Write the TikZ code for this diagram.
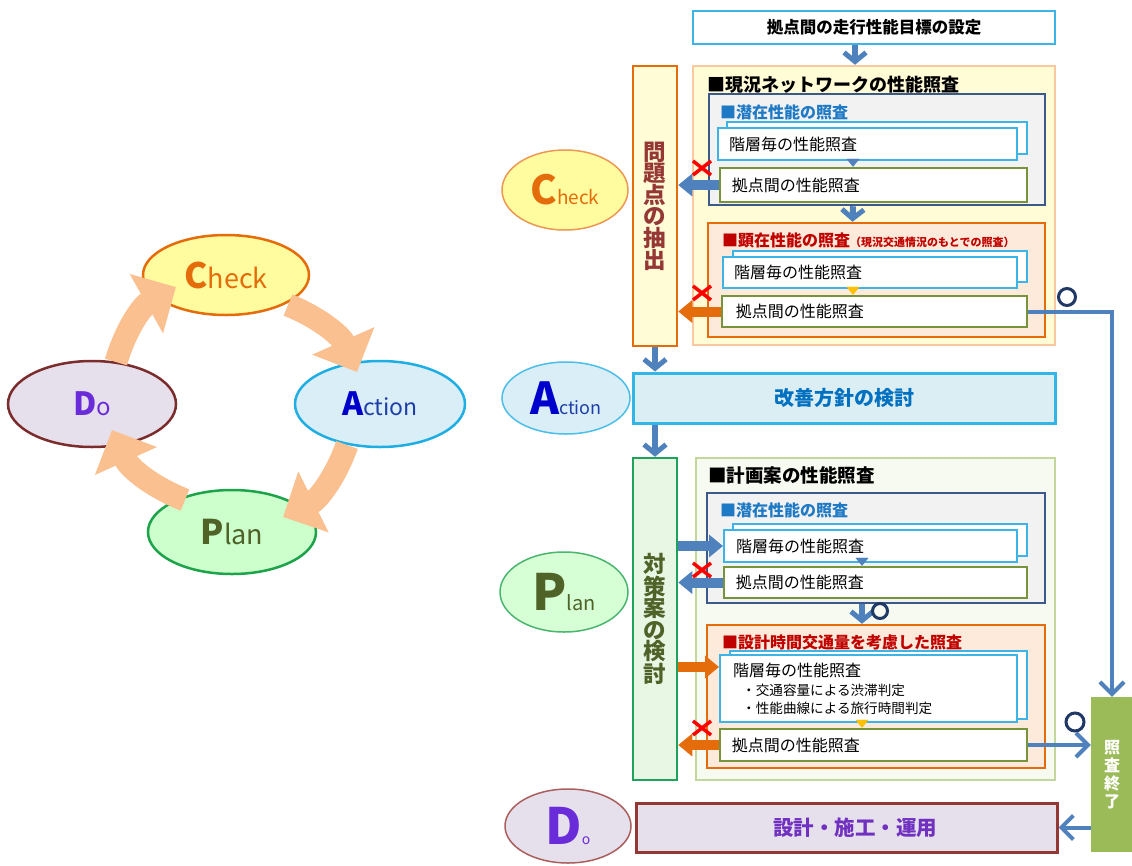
\documentclass[tikz,border=0pt]{standalone}
\usepackage{fontspec}
\setmainfont{Noto Sans CJK JP}
\usetikzlibrary{arrows.meta,shapes.geometric,calc}
\newcommand\fs[2]{\fontsize{#1}{#2}\selectfont}
\definecolor{blu}{HTML}{4F81BD}
\definecolor{cyanb}{HTML}{3CB4E5}
\definecolor{olv}{HTML}{77933C}
\definecolor{navyb}{HTML}{3B5A8A}
\definecolor{ttlblue}{HTML}{1F7AC6}
\definecolor{orng}{HTML}{E46C0A}
\definecolor{peachf}{HTML}{FDEADA}
\definecolor{yelf}{HTML}{FFFCD6}
\definecolor{big1b}{HTML}{F9C8A0}
\definecolor{redt}{HTML}{C00000}
\definecolor{big2f}{HTML}{F6FAF0}
\definecolor{big2b}{HTML}{C4D79B}
\definecolor{taif}{HTML}{E8F6E4}
\definecolor{taib}{HTML}{1FA35C}
\definecolor{oltext}{HTML}{4F6228}
\definecolor{kaif}{HTML}{DBEEF4}
\definecolor{kaib}{HTML}{31B6E7}
\definecolor{kait}{HTML}{0070C0}
\definecolor{shouf}{HTML}{9BBB59}
\definecolor{sekf}{HTML}{E6E0EC}
\definecolor{sekb}{HTML}{953735}
\definecolor{sekt}{HTML}{7030C0}
\definecolor{cycc}{HTML}{FAC090}
\definecolor{grayf}{HTML}{F2F2F2}
\definecolor{navyc}{HTML}{1F3864}
\definecolor{chkf}{HTML}{FFFCA0}
\definecolor{actf}{HTML}{DAEEF7}
\definecolor{actb}{HTML}{1EAEE3}
\definecolor{dob}{HTML}{7B2C2C}
\definecolor{plnf}{HTML}{CCFFCC}
\definecolor{plnb}{HTML}{1DA34A}
\definecolor{abl}{HTML}{0000CC}
\definecolor{ctn}{HTML}{1F3FA8}
\definecolor{dop}{HTML}{6A2BD9}
\definecolor{yeltri}{HTML}{FFC000}
\begin{document}
\begin{tikzpicture}[x=1pt,y=-1pt,
  ell/.style={ellipse,inner sep=0pt,line width=2.5pt},
  rell/.style={ellipse,inner sep=0pt,line width=1.5pt},
  rbox/.style={rectangle,inner sep=0pt,line width=2.5pt},
  ttl/.style={anchor=west,inner sep=0pt,font=\bfseries\fs{18}{20}},
  stl/.style={anchor=west,inner sep=0pt,font=\bfseries\fs{16}{18}},
  lbl/.style={anchor=west,inner sep=0pt,font=\fs{16}{18}},
  vtxt/.style={align=center},
  cyc/.style={draw=cycc,line width=23pt,-{Triangle[length=34pt,width=66pt]}},
  thk/.style={line width=10pt,-{Triangle[length=14pt,width=22pt]}},
  dwn/.style={draw=blu,line width=6pt,-{Straight Barb[length=9pt,width=22pt,line width=5pt]}},
  lng/.style={draw=blu,line width=4pt,-{Straight Barb[length=12pt,width=24pt]}},
  tri/.style={line width=0.1pt,-{Triangle[length=8pt,width=13pt]}},
  ring/.style={circle,draw=navyc,line width=3pt,minimum size=17pt,inner sep=0pt},
  redx/.pic={\draw[red,line width=3.5pt] (-9,-7)--(9,7) (-9,7)--(9,-7);}
]
\fill[white] (0,0) rectangle (1132,865);
\useasboundingbox (0,0) rectangle (1132,865);

% ---------- left PDCA cycle ----------
\node[ell,fill=chkf,draw=orng,minimum width=166pt,minimum height=80pt] (lcheck) at (226,275)
  {\textcolor{orng}{\bfseries\fs{35}{35}C\mdseries\fs{27}{27}heck}};
\node[ell,fill=actf,draw=actb,minimum width=170pt,minimum height=86pt] (laction) at (380,404)
  {\textcolor{abl}{\bfseries\fs{32}{32}A}\textcolor{ctn}{\fs{23}{23}ction}};
\node[ell,fill=sekf,draw=dob,minimum width=168pt,minimum height=86pt] (ldo) at (92,404)
  {\textcolor{dop}{\bfseries\fs{32}{32}D\mdseries\fs{24}{24}o}};
\node[ell,fill=plnf,draw=plnb,minimum width=168pt,minimum height=84pt] (lplan) at (232,532)
  {\textcolor{oltext}{\bfseries\fs{34}{34}P\mdseries\fs{27}{27}lan}};

\draw[cyc] ($(ldo)+(24,-42)$) to[bend left=22] ($(lcheck)+(-50,12)$);
\draw[cyc] ($(lcheck)+(62,30)$) to[bend left=22] ($(laction)+(-23,-32)$);
\draw[cyc] ($(laction)+(-33,41)$) to[bend left=22] ($(lplan)+(51,-15)$);
\draw[cyc] ($(lplan)+(-47,-32)$) to[bend left=22] ($(ldo)+(20,26)$);

% ---------- right flow ----------
\node[rbox,draw=cyanb,fill=white,line width=2pt,minimum width=362pt,minimum height=33pt,
  font=\bfseries\fs{16.5}{20}] (top) at (874,27.5) {拠点間の走行性能目標の設定};

% current network block
\node[rbox,draw=big1b,fill=yelf,minimum width=362pt,minimum height=279pt] (big1) at (874,205.5) {};
\node[ttl] (t1) at (707,85) {■現況ネットワークの性能照査};
\node[rbox,draw=navyb,fill=grayf,minimum width=336pt,minimum height=111pt] (pot1) at (877,149.5) {};
\node[stl,text=ttlblue] (t2) at (720,112) {■潜在性能の照査};
\node[rbox,draw=cyanb,fill=white,line width=2pt,minimum width=300pt,minimum height=32pt] (lay1b) at (877,138) {};
\node[rbox,draw=cyanb,fill=white,line width=2pt,minimum width=299pt,minimum height=32pt] (lay1) at (867.5,144) {};
\node[lbl] at ([xshift=12pt]lay1.west) {階層毎の性能照査};
\node[rbox,draw=olv,fill=white,minimum width=307pt,minimum height=34pt] (pt1) at (873.5,185) {};
\node[lbl] at ([xshift=13pt]pt1.west) {拠点間の性能照査};

\node[rbox,draw=orng,fill=peachf,minimum width=337pt,minimum height=114pt] (act1) at (876.5,280) {};
\node[stl,text=redt] (t3) at (722,240) {■顕在性能の照査{\fs{11}{13}（現況交通情況のもとでの照査）}};
\node[rbox,draw=cyanb,fill=white,line width=2pt,minimum width=294pt,minimum height=31pt] (lay2b) at (880,266.5) {};
\node[rbox,draw=cyanb,fill=white,line width=2pt,minimum width=294pt,minimum height=31pt] (lay2) at (870,272.5) {};
\node[lbl] at ([xshift=12pt]lay2.west) {階層毎の性能照査};
\node[rbox,draw=olv,fill=white,minimum width=305pt,minimum height=31pt] (pt2) at (874.5,311.5) {};
\node[lbl] at ([xshift=15pt]pt2.west) {拠点間の性能照査};

\node[rbox,draw=orng,fill=yelf,minimum width=44pt,minimum height=280pt,vtxt,
  font=\bfseries\fs{22.5}{21.6},text=sekb] (mondai) at (655,206) {問\\題\\点\\の\\抽\\出};

\node[rell,fill=chkf,draw=orng!70,minimum width=126pt,minimum height=80pt] (rcheck) at (565,190)
  {\textcolor{orng}{\bfseries\fs{40}{40}C\mdseries\fs{19}{19}heck}};

% improvement policy
\node[rbox,draw=kaib,fill=kaif,line width=3pt,minimum width=422pt,minimum height=50pt,
  font=\bfseries\fs{20}{22},text=kait] (kaizen) at (844,398) {改善方針の検討};
\node[rell,fill=actf,draw=actb!80,minimum width=128pt,minimum height=72pt] (raction) at (566,398)
  {\textcolor{abl}{\bfseries\fs{44}{44}A}\textcolor{ctn}{\fs{18}{18}ction}};

% plan block
\node[rbox,draw=big2b,fill=big2f,minimum width=359pt,minimum height=322pt] (big2) at (875.5,619) {};
\node[ttl,font=\bfseries\fs{18.5}{20}] (t4) at (708,475) {■計画案の性能照査};
\node[rbox,draw=navyb,fill=grayf,minimum width=338pt,minimum height=110pt] (pot2) at (876,548) {};
\node[stl,text=ttlblue] (t5) at (720,510) {■潜在性能の照査};
\node[rbox,draw=cyanb,fill=white,line width=2pt,minimum width=294pt,minimum height=32pt] (lay3b) at (880,540) {};
\node[rbox,draw=cyanb,fill=white,line width=2pt,minimum width=293pt,minimum height=32pt] (lay3) at (870.5,546) {};
\node[lbl] at ([xshift=13pt]lay3.west) {階層毎の性能照査};
\node[rbox,draw=olv,fill=white,minimum width=303pt,minimum height=31pt] (pt3) at (875.5,582.5) {};
\node[lbl] at ([xshift=13pt]pt3.west) {拠点間の性能照査};

\node[rbox,draw=orng,fill=peachf,minimum width=338pt,minimum height=143pt] (des) at (876,696.5) {};
\node[stl,text=redt] (t6) at (722,642) {■設計時間交通量を考慮した照査};
\node[rbox,draw=cyanb,fill=white,line width=2pt,minimum width=297pt,minimum height=68pt] (lay4b) at (878.5,685) {};
\node[rbox,draw=cyanb,fill=white,line width=2pt,minimum width=297pt,minimum height=67pt] (lay4) at (868.5,688.5) {};
\node[lbl] (l4a) at (733,670) {階層毎の性能照査};
\node[lbl,font=\fs{13.6}{15}] (l4b) at (742,690) {・交通容量による渋滞判定};
\node[lbl,font=\fs{13.6}{15}] (l4c) at (742,708) {・性能曲線による旅行時間判定};
\node[rbox,draw=olv,fill=white,minimum width=307pt,minimum height=32pt] (pt4) at (873.5,745) {};
\node[lbl] at ([xshift=13pt]pt4.west) {拠点間の性能照査};

\node[rbox,draw=taib,fill=taif,minimum width=44pt,minimum height=322pt,vtxt,
  font=\bfseries\fs{22.5}{21.4},text=oltext] (taisaku) at (655,619) {対\\策\\案\\の\\検\\討};
\node[rell,fill=plnf!80!white,draw=plnb!80,minimum width=128pt,minimum height=80pt] (rplan) at (564,592)
  {\textcolor{oltext}{\bfseries\fs{50}{50}P\mdseries\fs{20}{20}lan}};

% end of check, design
\node[rectangle,inner sep=0pt,fill=shouf,minimum width=42pt,minimum height=155pt,vtxt,
  font=\bfseries\fs{16}{17.8},text=white] (shouka) at (1112,774.5) {照\\査\\終\\了};
\node[rbox,draw=sekb,fill=sekf,line width=3pt,minimum width=421pt,minimum height=49pt] (sekkei) at (846.5,827.5) {};
\node[inner sep=0pt,font=\bfseries\fs{20.5}{22},text=sekt] (sekt) at (855,827.5) {設計・施工・運用};
\node[rell,fill=sekf,draw=sekb!80,minimum width=126pt,minimum height=74pt] (rdo) at (568,826)
  {\textcolor{dop}{\bfseries\fs{50}{50}D\mdseries\fs{14}{14}o}};

% ---------- connectors ----------
\draw[dwn] ([xshift=-19pt]top.south) -- ([xshift=-19pt]big1.north);
\draw[dwn] ([xshift=-24pt]pot1.south) -- ([xshift=-24pt]act1.north);
\draw[tri,draw=blu,fill=blu] ([xshift=-14.5pt]lay1.south) -- ([xshift=-14.5pt]lay1.south |- pt1.north);
\draw[tri,draw=yeltri,fill=yeltri] ([xshift=-17pt]lay2.south) -- ([xshift=-17pt]lay2.south |- pt2.north);
\draw[thk,draw=blu] (pt1.west) -- (mondai.east |- pt1.west);
\draw[thk,draw=orng] (pt2.west) -- (mondai.east |- pt2.west);
\draw[dwn] (mondai.south) -- (mondai.south |- kaizen.north);
\draw[dwn] (taisaku.north |- kaizen.south) -- (taisaku.north);

\draw[thk,draw=blu] (taisaku.east |- lay3.west) -- (lay3.west);
\draw[thk,draw=blu] (pt3.west) -- (taisaku.east |- pt3.west);
\draw[tri,draw=blu,fill=blu] ([xshift=-8.5pt]lay3.south) -- ([xshift=-8.5pt]lay3.south |- pt3.north);
\draw[dwn] ([xshift=-14pt]pot2.south) -- ([xshift=-14pt]des.north);
\coordinate (o4) at ([yshift=21.5pt]lay4.west);
\draw[thk,draw=orng] (taisaku.east |- o4) -- (o4);
\draw[thk,draw=orng] (pt4.west) -- (taisaku.east |- pt4.west);
\draw[tri,draw=yeltri,fill=yeltri] ([xshift=-6.5pt]lay4.south) -- ([xshift=-6.5pt]lay4.south |- pt4.north);

\draw[lng] (pt2.east) -| (shouka.north);
\draw[lng] (pt4.east) -- (shouka.west |- pt4.east);
\draw[lng] (shouka.west |- sekkei.east) -- (sekkei.east);

% marks
\pic at (702,168) {redx};
\pic at (702,293) {redx};
\pic at (702,570) {redx};
\pic at (702,728) {redx};
\node[ring] (o1) at (1067,297) {};
\node[ring,minimum size=15pt] (o2) at (880,611) {};
\node[ring,minimum size=18pt] (o3) at (1075,722) {};
\end{tikzpicture}
\end{document}
